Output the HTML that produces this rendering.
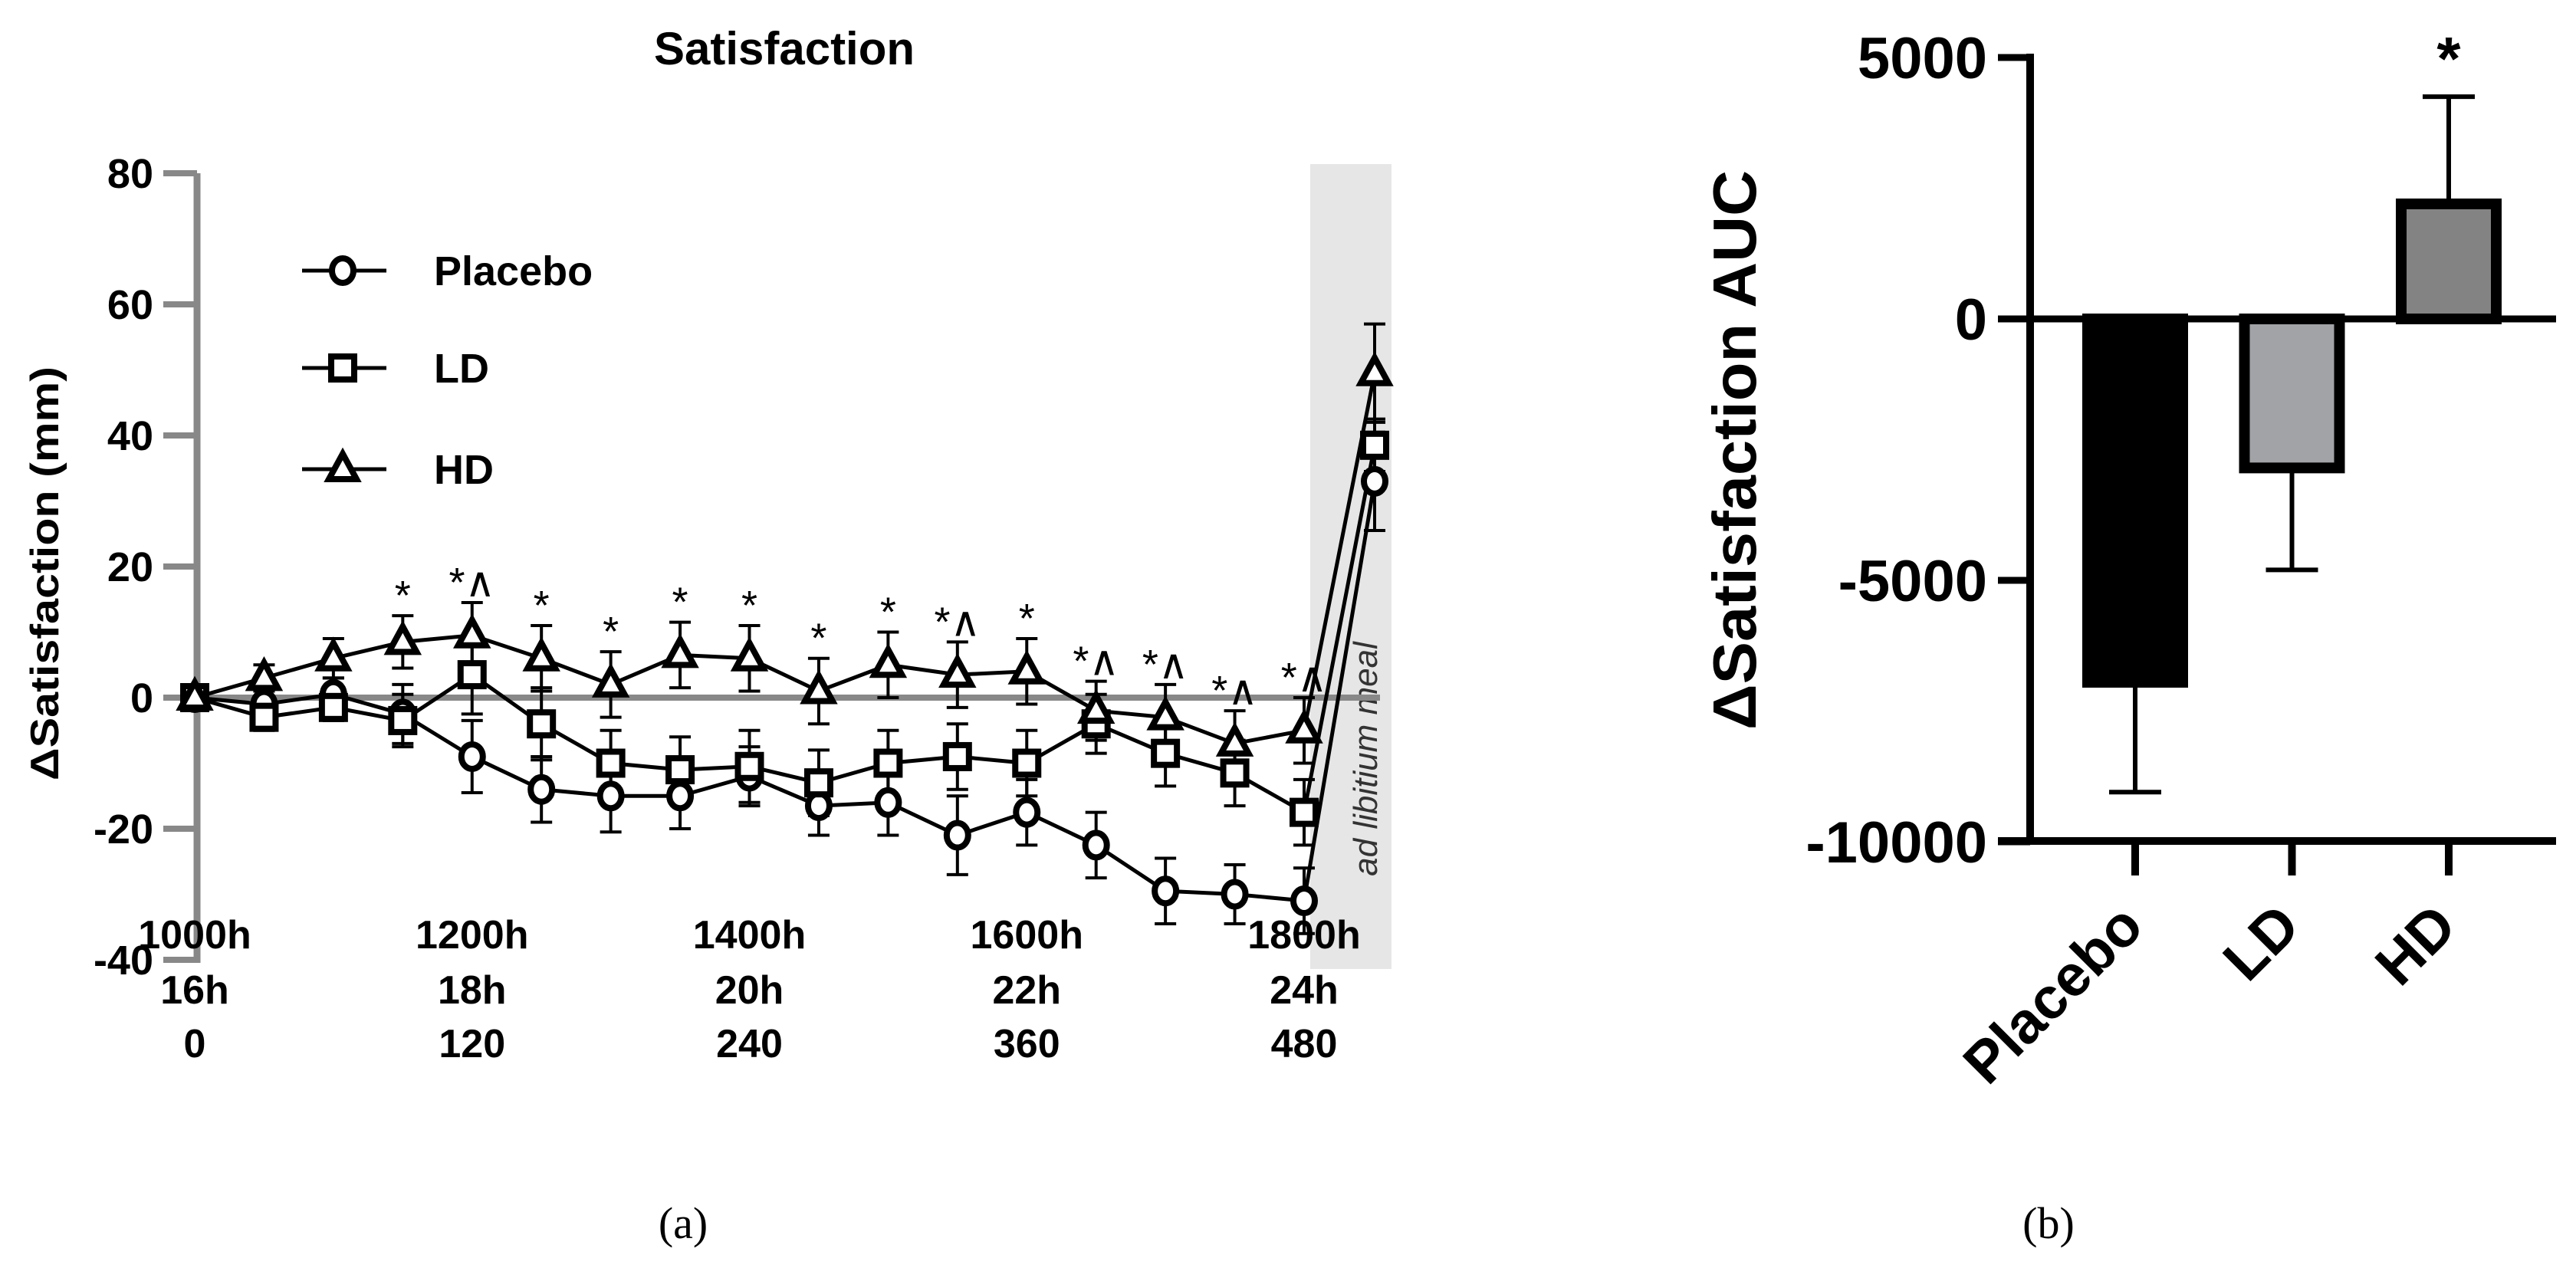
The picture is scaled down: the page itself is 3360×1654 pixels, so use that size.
<!DOCTYPE html>
<html><head><meta charset="utf-8">
<style>
html,body{margin:0;padding:0;background:#fff;}
svg{display:block;}
text{font-family:"Liberation Sans",Arial,sans-serif;}
</style></head>
<body>
<svg id="fig" width="3360" height="1654" viewBox="0 0 3360 1654" xmlns="http://www.w3.org/2000/svg">
  <rect x="0" y="0" width="3360" height="1654" fill="#fff"/>
  <g id="panelA">
    <rect x="1709" y="214" width="106" height="1050" fill="#e6e6e6"/>
    <text x="1023" y="84" font-size="60" font-weight="bold" text-anchor="middle">Satisfaction</text>
    <text transform="translate(76,748) rotate(-90)" font-size="52" font-weight="bold" text-anchor="middle" textLength="540" lengthAdjust="spacingAndGlyphs">ΔSatisfaction (mm)</text>
    <text transform="translate(1796,990) rotate(-90)" font-size="44" font-style="italic" fill="#333" text-anchor="middle">ad libitium meal</text>
    <g id="aAxis"></g>
    <g id="aMarks"></g>
    <text x="891" y="1615" font-size="58" text-anchor="middle" style="font-family:'Liberation Serif',serif">(a)</text>
  </g>
  <g id="panelB">
    <text transform="translate(2290,587) rotate(-90)" font-size="80" font-weight="bold" text-anchor="middle" textLength="730" lengthAdjust="spacingAndGlyphs">ΔSatisfaction AUC</text>
    <g id="bAxis"></g>
    <g id="bMarks"></g>
    <text x="2672" y="1615" font-size="58" text-anchor="middle" style="font-family:'Liberation Serif',serif">(b)</text>
  </g>
</svg>
<script>
// ---------- Panel A data ----------
const timeTicks = ["1000h","1200h","1400h","1600h","1800h"];
const hourTicks = ["16h","18h","20h","22h","24h"];
const minuteTicks = ["0","120","240","360","480"];
const minutes = [0,30,60,90,120,150,180,210,240,270,300,330,360,390,420,450,480];
const yTicks = [80,60,40,20,0,-20,-40];
const seriesNames = ["Placebo","LD","HD"];
const placebo = [0,-1,0.5,-2.5,-9,-14,-15,-15,-12,-16.5,-16,-21,-17.5,-22.5,-29.5,-30,-31];
const placeboMeal = 33;
const placeboErr = [0,2,2.5,4.5,5.5,5,5.5,5,4.5,4.5,5,6,5,5,5,4.5,5];
const placeboMealErr = 7.5;
const ld = [0,-3,-1.5,-3.5,3.5,-4,-10,-11,-10.5,-13,-10,-9,-10,-4,-8.5,-11.5,-17.5];
const ldMeal = 38.5;
const ldErr = [0,2,2,4,6,5.5,5,5,5.5,5,5,5,5,4.5,5,5,5];
const ldMealErr = 4;
const hd = [0,3,6,8.5,9.5,6,2,6.5,6,1,5,3.5,4,-2,-3,-7,-5];
const hdMeal = 49.5;
const hdErr = [0,2,3,4,5,5,5,5,5,5,5,5,5,4.5,5,5,5];
const hdMealErr = 7.5;
const sigLabels = ["","","","*","*∧","*","*","*","*","*","*","*∧","*","*∧","*∧","*∧","*∧"];

// ---------- Panel B data ----------
const barCats = ["Placebo","LD","HD"];
const barVals = [-6950,-2850,2200];
const barErr = [2100,1950,2050];
const barTicks = [5000,0,-5000,-10000];
const barSig = ["","","*"];

const NS="http://www.w3.org/2000/svg";
function mk(tag, attrs, parent){const e=document.createElementNS(NS,tag);for(const k in attrs)e.setAttribute(k,attrs[k]);parent.appendChild(e);return e;}

const ax = m => 254 + m*(1447/480);
const ay = v => 910 - v*8.55;
const mealX = 1793;
const aAxis=document.getElementById('aAxis');
const aMarks=document.getElementById('aMarks');

let zl=mk('line',{x1:254,y1:ay(0),x2:1800,y2:ay(0),stroke:'#888',"stroke-width":8},aAxis);


let yl=mk('line',{x1:257,y1:ay(80),x2:257,y2:ay(-40)+4,stroke:'#888',"stroke-width":9},aAxis);


yTicks.forEach(v=>{
  const t=mk('line',{x1:213,y1:ay(v),x2:257,y2:ay(v),stroke:'#888',"stroke-width":8},aAxis);
  
  
  const l=mk('text',{x:200,y:ay(v)+19,"font-size":54,"font-weight":"bold","text-anchor":"end"},aAxis);
  l.textContent=String(v);
  
  
});
[timeTicks,hourTicks,minuteTicks].forEach((arr,row)=>{
  arr.forEach((s,i)=>{
    const l=mk('text',{x:ax(i*120),y:[1237,1309,1379][row],"font-size":52,"font-weight":"bold","text-anchor":"middle"},aAxis);
    l.textContent=s;
    
    
  });
});

const seriesVals=[placebo,ld,hd], seriesMeal=[placeboMeal,ldMeal,hdMeal];
const seriesErr=[placeboErr,ldErr,hdErr], seriesMealErr=[placeboMealErr,ldMealErr,hdMealErr];
const shapes=['circle','square','triangle'];
function marker(shape,x,y,parent,name){
  let e;
  if(shape==='circle') e=mk('ellipse',{cx:x,cy:y,rx:14,ry:16,fill:'#fff',stroke:'#000',"stroke-width":8},parent);
  else if(shape==='square') e=mk('rect',{x:x-15,y:y-15,width:30,height:30,fill:'#fff',stroke:'#000',"stroke-width":8},parent);
  else e=mk('polygon',{points:`${x},${y-20} ${x-18},${y+13} ${x+18},${y+13}`,fill:'#fff',stroke:'#000',"stroke-width":8},parent);
  
  
  return e;
}
function errbar(x,v,e,parent,name){
  const g=mk('g',{stroke:'#000',"stroke-width":4},parent);
  
  
  mk('line',{x1:x,y1:ay(v+e),x2:x,y2:ay(v-e)},g);
  mk('line',{x1:x-14,y1:ay(v+e),x2:x+14,y2:ay(v+e)},g);
  mk('line',{x1:x-14,y1:ay(v-e),x2:x+14,y2:ay(v-e)},g);
}
seriesVals.forEach((vals,s)=>{
  const g=mk('g',{},aMarks);
  
  
  vals.forEach((v,i)=>{ if(seriesErr[s][i]>0) errbar(ax(minutes[i]),v,seriesErr[s][i],g,'error-bar'); });
  errbar(mealX,seriesMeal[s],seriesMealErr[s],g,'error-bar-meal');
  let pts=vals.map((v,i)=>ax(minutes[i])+','+ay(v)).join(' ')+' '+mealX+','+ay(seriesMeal[s]);
  const pl=mk('polyline',{points:pts,fill:'none',stroke:'#000',"stroke-width":5},g);
  
  
});
seriesVals.forEach((vals,s)=>{
  vals.forEach((v,i)=>marker(shapes[s],ax(minutes[i]),ay(v),aMarks,'point-'+seriesNames[s].toLowerCase()));
  marker(shapes[s],mealX,ay(seriesMeal[s]),aMarks,'point-meal-'+seriesNames[s].toLowerCase());
});
sigLabels.forEach((s,i)=>{
  if(!s) return;
  const t=mk('text',{x:ax(minutes[i]),y:ay(hd[i]+hdErr[i])-8,"font-size":54,"text-anchor":"middle"},aMarks);
  t.textContent=s;
  
  
});
const legY=[353,480,612];
seriesNames.forEach((n,s)=>{
  const g=mk('g',{},aMarks);
  
  
  mk('line',{x1:394,y1:legY[s],x2:504,y2:legY[s],stroke:'#000',"stroke-width":5},g);
  marker(shapes[s],447,legY[s],g,'legend-marker');
  const t=mk('text',{x:566,y:legY[s]+19,"font-size":54,"font-weight":"bold"},g);
  t.textContent=n;
});

// ---------- Panel B ----------
const bAxis=document.getElementById('bAxis'), bMarks=document.getElementById('bMarks');
const by = v => 416 - v*(341/5000);
const bx = i => 2785 + i*204.5;
barVals.forEach((v,i)=>{
  const x=bx(i);
  const eb=mk('g',{stroke:'#000',"stroke-width":6},bMarks);
  
  
  const tip=v+(v<0?-barErr[i]:barErr[i]);
  mk('line',{x1:x,y1:by(v),x2:x,y2:by(tip)},eb);
  mk('line',{x1:x-34,y1:by(tip),x2:x+34,y2:by(tip)},eb);
  const fills=['#000','#a2a3a7','#838383'];
  const top=Math.min(by(0),by(v)), h=Math.abs(by(v)-by(0));
  const r=mk('rect',{x:x-62,y:top,width:124,height:h,fill:fills[i],stroke:'#000',"stroke-width":14},bMarks);
  
  
  if(barSig[i]){
    const t=mk('text',{x:x,y:by(tip)-22,"font-size":80,"font-weight":"bold","text-anchor":"middle"},bMarks);
    t.textContent=barSig[i];
    
    
  }
  const l=mk('text',{transform:`translate(${x+14},1212) rotate(-45)`,"font-size":76,"font-weight":"bold","text-anchor":"end"},bAxis);
  l.textContent=barCats[i];
  
  
  const tk=mk('line',{x1:x,y1:1097,x2:x,y2:1142,stroke:'#000',"stroke-width":10},bAxis);
  
  
});
let z2=mk('line',{x1:2606,y1:by(0),x2:3334,y2:by(0),stroke:'#000',"stroke-width":9},bAxis);


let xa=mk('line',{x1:2606,y1:1097,x2:3334,y2:1097,stroke:'#000',"stroke-width":10},bAxis);


let ya=mk('line',{x1:2648,y1:by(5000)-5,x2:2648,y2:1097,stroke:'#000',"stroke-width":10},bAxis);


barTicks.forEach(v=>{
  const t=mk('line',{x1:2606,y1:by(v),x2:2648,y2:by(v),stroke:'#000',"stroke-width":9},bAxis);
  
  
  const l=mk('text',{x:2592,y:by(v)+27,"font-size":76,"font-weight":"bold","text-anchor":"end"},bAxis);
  l.textContent=String(v);
  
  
});
</script>
</body></html>
